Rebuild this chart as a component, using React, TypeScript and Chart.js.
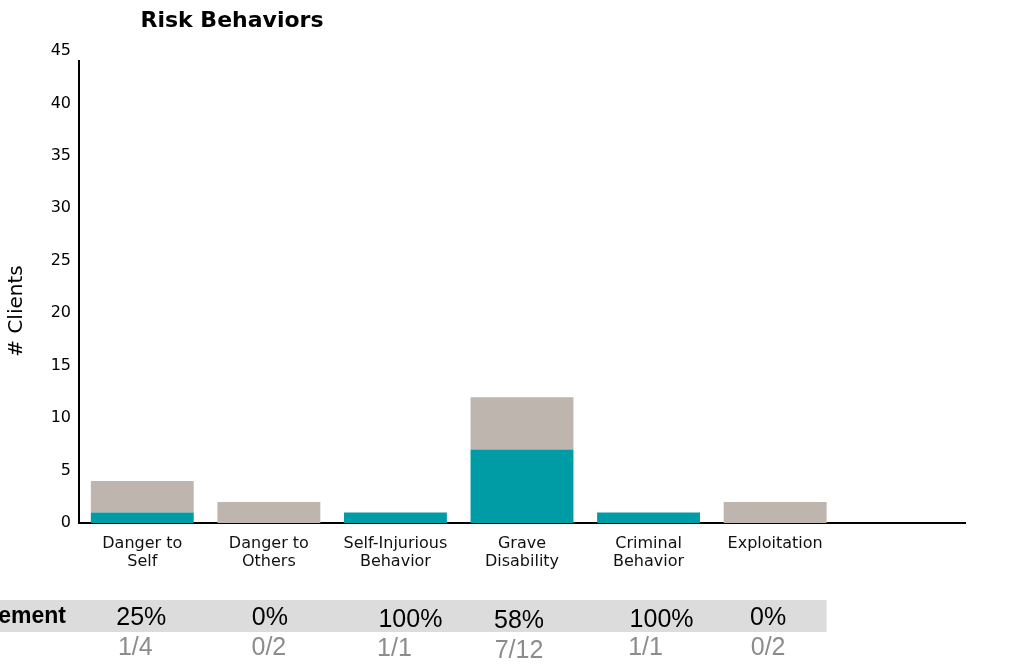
import React, { useEffect, useRef } from "react";
import { Chart, registerables } from "chart.js";

Chart.register(...registerables);

const categories: string[][] = [
  ["Danger to", "Self"],
  ["Danger to", "Others"],
  ["Self-Injurious", "Behavior"],
  ["Grave", "Disability"],
  ["Criminal", "Behavior"],
  ["Exploitation"],
  [""],
];
const improved: number[] = [1, 0, 1, 7, 1, 0, 0];
const notImproved: number[] = [3, 2, 0, 5, 0, 2, 0];
const totals: number[] = [4, 2, 1, 12, 1, 2];
const yTicks: number[] = [0, 5, 10, 15, 20, 25, 30, 35, 40, 45];

const chartTitle = "Risk Behaviors";
const yTitle = "# Clients";
const rowLabel = "Improvement";

// layout nudges for the table text (pixels)
const pctNudgeX = [-1, 1, 15, -3, 13, -7];
const pctNudgeY = [0, 0, 2, 3, 2, 0];
const fracNudgeX = [-7, 0, -1, -3, -3, -7];
const fracNudgeY = [0, 0, 1, 3, 0, 0];

const TEAL = "rgb(0,156,166)";
const GRAY = "rgb(190,181,175)";
const CHART_FONT = "'DejaVu Sans', sans-serif";
const TABLE_FONT = "'Liberation Sans', Arial, sans-serif";

const overlayPlugin = {
  id: "overlay",
  beforeDatasetsDraw(chart: any) {
    const ctx = chart.ctx as CanvasRenderingContext2D;
    const { left, bottom } = chart.chartArea;
    ctx.save();
    ctx.strokeStyle = "#000";
    ctx.lineWidth = 2;
    ctx.beginPath();
    ctx.moveTo(left, 60);
    ctx.lineTo(left, bottom + 1);
    ctx.stroke();
    ctx.restore();
  },
  afterDraw(chart: any) {
    const ctx = chart.ctx as CanvasRenderingContext2D;
    const xs = chart.scales.x;
    ctx.save();
    // title
    ctx.fillStyle = "#000";
    ctx.font = `bold 22px ${CHART_FONT}`;
    ctx.textAlign = "center";
    ctx.textBaseline = "alphabetic";
    ctx.fillText(chartTitle, 232, 27);
    // y title
    ctx.save();
    ctx.translate(22, 311);
    ctx.rotate(-Math.PI / 2);
    ctx.font = `20px ${CHART_FONT}`;
    ctx.textAlign = "center";
    ctx.fillText(yTitle, 0, 0);
    ctx.restore();
    // table band
    const meta = chart.getDatasetMeta(0);
    const last = meta.data[totals.length - 1];
    const bandRight = last.x + last.width / 2;
    ctx.fillStyle = "#DCDCDC";
    ctx.fillRect(0, 600, bandRight, 32);
    ctx.fillStyle = "#000";
    ctx.font = `bold 23px ${TABLE_FONT}`;
    ctx.textAlign = "right";
    ctx.fillText(rowLabel, 66, 623);
    for (let i = 0; i < totals.length; i++) {
      const cx = xs.getPixelForValue(i);
      const pct = Math.round((improved[i] / totals[i]) * 100) + "%";
      ctx.textAlign = "center";
      ctx.fillStyle = "#000";
      ctx.font = `25px ${TABLE_FONT}`;
      ctx.fillText(pct, cx + pctNudgeX[i], 625 + pctNudgeY[i]);
      ctx.fillStyle = "#8C8C8C";
      ctx.fillText(`${improved[i]}/${totals[i]}`, cx + fracNudgeX[i], 655 + fracNudgeY[i]);
    }
    ctx.restore();
  },
};

export default function App() {
  const ref = useRef<HTMLCanvasElement | null>(null);
  useEffect(() => {
    if (!ref.current) return;
    const chart = new Chart(ref.current, {
      type: "bar",
      data: {
        labels: categories,
        datasets: [
          {
            label: "Improved",
            data: improved,
            backgroundColor: TEAL,
            borderWidth: 0,
            categoryPercentage: 1,
            barPercentage: 0.813,
          },
          {
            label: "Not improved",
            data: notImproved,
            backgroundColor: GRAY,
            borderWidth: 0,
            categoryPercentage: 1,
            barPercentage: 0.813,
          },
        ],
      },
      options: {
        responsive: false,
        devicePixelRatio: 1,
        animation: false,
        layout: { padding: { left: 0, top: 51, right: 59, bottom: 0 } },
        plugins: {
          legend: { display: false },
          title: { display: false },
          tooltip: { enabled: false },
        },
        scales: {
          x: {
            stacked: true,
            grid: { display: false, drawTicks: false },
            border: { display: true, color: "#000", width: 2 },
            ticks: {
              color: "#111",
              font: { family: CHART_FONT, size: 16, lineHeight: 1.125 },
              padding: 12,
              maxRotation: 0,
              autoSkip: false,
            },
            afterFit(scale: any) {
              scale.height = 147;
            },
          },
          y: {
            stacked: true,
            min: 0,
            max: 45,
            afterBuildTicks(scale: any) {
              scale.ticks = yTicks.map((v) => ({ value: v }));
            },
            grid: { display: false, drawTicks: false },
            border: { display: false },
            ticks: {
              color: "#000",
              font: { family: CHART_FONT, size: 16 },
              padding: 8,
            },
            afterFit(scale: any) {
              scale.width = 79;
            },
          },
        },
      },
      plugins: [overlayPlugin],
    });
    return () => chart.destroy();
  }, []);
  return (
    <div style={{ position: "fixed", left: 0, top: 0, width: 1024, height: 670, background: "#fff" }}>
      <canvas ref={ref} width={1024} height={670} style={{ display: "block" }} />
    </div>
  );
}
